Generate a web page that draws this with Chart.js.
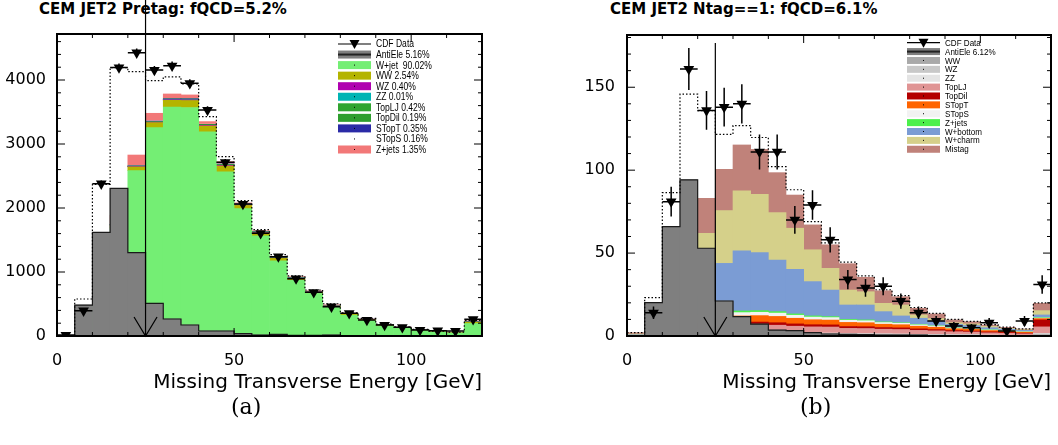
<!DOCTYPE html>
<html>
<head>
<meta charset="utf-8">
<script src="https://cdn.jsdelivr.net/npm/chart.js@4.4.1/dist/chart.umd.min.js"></script>
<style>
  body { margin: 0; width: 1058px; height: 445px; background: #fff; position: relative; overflow: hidden; }
  canvas { position: absolute; top: 0; }
  #pretag { left: 0; }
  #ntag { left: 529px; }
  .title { position: absolute; top: 2px; font: bold 15px "DejaVu Sans"; line-height: 15px; white-space: nowrap; color: #000; }
  .caption { position: absolute; font: 22px "DejaVu Serif"; line-height: 22px; color: #000; }
</style>
</head>
<body>
<div class="title" style="left:39px">CEM JET2 Pretag: fQCD=5.2%</div>
<div class="title" style="left:610px">CEM JET2 Ntag==1: fQCD=6.1%</div>
<canvas id="pretag" width="529" height="445"></canvas>
<canvas id="ntag" width="529" height="445"></canvas>
<div class="caption" style="left:231px; top:396px">(a)</div>
<div class="caption" style="left:800px; top:396px">(b)</div>
<script>
// 5 GeV bins of missing ET, last bin holds the overflow
const binCenters = [2.5, 7.5, 12.5, 17.5, 22.5, 27.5, 32.5, 37.5, 42.5, 47.5, 52.5, 57.5,
  62.5, 67.5, 72.5, 77.5, 82.5, 87.5, 92.5, 97.5, 102.5, 107.5, 112.5, 117.5];
const binWidth = 5;
const metCut = 25;
const xTicks = [0, 50, 100];
const pretagYTicks = [0, 1000, 2000, 3000, 4000];
const ntagYTicks = [0, 50, 100, 150];

// Pretag sample
const pretagData    = [15, 395, 2380, 4195, 4427, 4156, 4223, 3948, 3531, 2714, 2062, 1604, 1240, 896, 682, 458, 354, 250, 172, 135, 94, 83, 78, 260];
const pretagAntiEle = [0, 484, 1620, 2308, 1302, 511, 266, 172, 78, 78, 36, 16, 25, 10, 10, 16, 5, 5, 3, 3, 3, 3, 3, 3];
const pretagWjet    = [6, 80, 660, 1690, 2583, 3255, 3578, 3570, 3192, 2567, 1990, 1565, 1175, 870, 665, 450, 325, 242, 160, 122, 85, 62, 48, 195];
const pretagWW      = [0, 2, 20, 40, 60, 80, 105, 110, 90, 90, 50, 45, 38, 30, 22, 18, 15, 13, 10, 8, 7, 6, 5, 20];
const pretagWZ      = [0, 0, 3, 5, 5, 7, 9, 10, 9, 10, 8, 7, 6, 5, 4, 3, 3, 2, 2, 2, 1, 1, 1, 4];
const pretagZZ      = [0, 0, 0, 0, 0, 0, 1, 1, 1, 1, 0, 0, 0, 0, 0, 0, 0, 0, 0, 0, 0, 0, 0, 0];
const pretagTopLJ   = [0, 1, 3, 5, 5, 6, 7, 8, 7, 8, 6, 6, 6, 5, 4, 4, 3, 3, 2, 2, 2, 1, 1, 5];
const pretagTopDil  = [0, 0, 1, 2, 2, 3, 3, 4, 3, 4, 3, 3, 3, 3, 2, 2, 2, 2, 1, 1, 1, 1, 1, 4];
const pretagSTopT   = [0, 1, 3, 5, 6, 7, 7, 7, 6, 7, 6, 5, 5, 4, 3, 3, 3, 2, 2, 2, 1, 1, 1, 3];
const pretagSTopS   = [0, 0, 1, 2, 2, 2, 2, 2, 2, 2, 2, 2, 2, 1, 1, 1, 1, 1, 1, 0, 0, 0, 0, 1];
const pretagZjets   = [2, 10, 59, 135, 165, 120, 70, 55, 40, 35, 15, 12, 10, 10, 8, 7, 6, 5, 4, 3, 3, 2, 2, 8];

// Ntag==1 sample
const ntagData     = [null, 14, 81, 161, 136, 138, 140, 111, 111, 70, 79, 58, 34, 29, 30, 21, 14, 9, 6, 5, 8, 3, 9, 31];
const ntagAntiEle  = [0, 20.1, 65.9, 94.1, 52.9, 21.1, 11.7, 7.2, 3.6, 3.2, 2.0, 1.2, 1.0, 0.8, 0.6, 0.6, 0.5, 0.3, 0.3, 0.2, 0.2, 0.1, 0.1, 0.3];
const ntagWW       = [0, 0.1, 0.3, 0.8, 1.2, 1.4, 1.5, 1.5, 1.4, 1.3, 1.2, 1.2, 1.0, 1.0, 0.9, 0.8, 0.7, 0.6, 0.5, 0.5, 0.4, 0.3, 0.3, 0.8];
const ntagWZ       = [0, 0, 0.1, 0.3, 0.4, 0.5, 0.5, 0.5, 0.5, 0.4, 0.4, 0.4, 0.3, 0.3, 0.3, 0.3, 0.2, 0.2, 0.2, 0.2, 0.1, 0.1, 0.1, 0.5];
const ntagZZ       = [0, 0, 0, 0.1, 0.2, 0.2, 0.2, 0.2, 0.2, 0.2, 0.2, 0.2, 0.1, 0.1, 0.1, 0.1, 0.1, 0.1, 0.1, 0.1, 0.1, 0.1, 0, 0.2];
const ntagTopLJ    = [0.3, 0.4, 1.5, 3.0, 4.0, 4.4, 4.5, 4.6, 4.4, 4.0, 3.7, 3.6, 3.2, 3.1, 2.8, 2.7, 2.4, 2.2, 1.8, 1.6, 1.3, 1.1, 0.9, 4.0];
const ntagTopDil   = [0, 0.1, 0.5, 1.0, 1.4, 1.5, 1.6, 1.6, 1.5, 1.4, 1.3, 1.3, 1.1, 1.1, 1.0, 1.0, 0.9, 0.8, 0.7, 0.6, 0.6, 0.5, 0.4, 4.2];
const ntagSTopT    = [0, 0.2, 1.0, 2.2, 3.2, 3.6, 3.8, 3.9, 3.8, 3.4, 3.0, 2.9, 2.5, 2.4, 2.0, 1.9, 1.6, 1.4, 1.1, 1.0, 0.8, 0.7, 0.6, 0.8];
const ntagSTopS    = [0, 0.1, 0.5, 1.2, 1.8, 2.0, 2.0, 2.0, 2.0, 1.8, 1.6, 1.5, 1.3, 1.2, 1.0, 0.9, 0.8, 0.7, 0.4, 0.4, 0.3, 0.3, 0.2, 0.3];
const ntagZjets    = [0, 0.2, 0.8, 1.5, 1.0, 1.0, 1.0, 1.0, 0.9, 0.8, 0.7, 0.6, 0.5, 0.5, 0.4, 0.3, 0.3, 0.2, 0.2, 0.2, 0.2, 0.1, 0.1, 0.3];
const ntagWbottom  = [0.4, 0.5, 5.0, 14.0, 26.8, 29.2, 36.2, 35.0, 31.1, 26.9, 20.7, 16.0, 8.7, 9.0, 6.2, 4.1, 3.7, 2.8, 2.0, 1.7, 1.2, 0.9, 0.8, 1.6];
const ntagWcharm   = [0.5, 0.6, 4.8, 13.0, 21.9, 31.8, 36.3, 35.2, 28.6, 24.8, 19.2, 13.1, 9.0, 8.0, 5.0, 6.6, 2.0, 1.5, 1.0, 1.0, 0.8, 0.5, 0.4, 2.6];
const ntagMistag   = [0.8, 0.8, 6.0, 14.6, 21.1, 24.9, 27.6, 27.0, 24.1, 20.0, 15.0, 14.2, 15.9, 8.7, 7.6, 5.0, 4.0, 2.8, 1.7, 1.3, 0.8, 0.6, 0.4, 4.4];

// [legend text, values, fill colour], bottom of the stack first
const pretagStack = [
  ['W+jet  90.02%', pretagWjet, '#74ee74'],
  ['WW 2.54%', pretagWW, '#b4b400'],
  ['WZ 0.40%', pretagWZ, '#b000b0'],
  ['ZZ 0.01%', pretagZZ, '#00b4b4'],
  ['TopLJ 0.42%', pretagTopLJ, '#30a430'],
  ['TopDil 0.19%', pretagTopDil, '#2e9e2e'],
  ['STopT 0.35%', pretagSTopT, '#2a2aa6'],
  ['STopS 0.16%', pretagSTopS, '#ffffff'],
  ['Z+jets 1.35%', pretagZjets, '#f27878']
];
const ntagStack = [
  ['WW', ntagWW, '#a9a9a9'],
  ['WZ', ntagWZ, '#c8c8c8'],
  ['ZZ', ntagZZ, '#e4e4e4'],
  ['TopLJ', ntagTopLJ, '#e09494'],
  ['TopDil', ntagTopDil, '#b40000'],
  ['STopT', ntagSTopT, '#ff6400'],
  ['STopS', ntagSTopS, '#f2f2f2'],
  ['Z+jets', ntagZjets, '#4cf04c'],
  ['W+bottom', ntagWbottom, '#7b9cd4'],
  ['W+charm', ntagWcharm, '#d5d08a'],
  ['Mistag', ntagMistag, '#c0827a']
];

function points(values) {
  return binCenters.map((x, i) => ({ x: x, y: values[i] }));
}

// outline of a histogram: one point per lower bin edge plus the last upper edge
function steps(values) {
  const pts = binCenters.map((x, i) => ({ x: x - binWidth / 2, y: values[i] }));
  pts.push({ x: binCenters[binCenters.length - 1] + binWidth / 2, y: values[values.length - 1] });
  return pts;
}

function total(list) {
  return binCenters.map((c, i) => list.reduce((s, arr) => s + arr[i], 0));
}

function barSet(label, values, color, stack, order) {
  return {
    type: 'bar', label: label, data: points(values), backgroundColor: color,
    stack: stack, order: order, grouped: false, barPercentage: 1, categoryPercentage: 1,
    borderWidth: 0
  };
}

function stepSet(values, color, dash, stack, order) {
  return {
    type: 'line', data: steps(values), stepped: 'before', borderColor: color,
    borderWidth: 1.2, borderDash: dash, pointRadius: 0, fill: false,
    stack: stack, order: order
  };
}

// ROOT-like frame, inner ticks, error bars, cut arrow and legend
const rootStyle = {
  id: 'rootStyle',
  afterDatasetsDraw(chart, args, opts) {
    const { ctx, chartArea: a, scales: { x, y } } = chart;
    ctx.save();
    ctx.beginPath();
    ctx.rect(a.left, a.top, a.right - a.left, a.bottom - a.top);
    ctx.clip();
    ctx.strokeStyle = '#000';
    ctx.lineWidth = 1.5;
    ctx.beginPath();
    opts.data.forEach((v, i) => {
      if (v === null) return;
      const c = binCenters[i];
      const py = y.getPixelForValue(v);
      const err = Math.sqrt(v);
      ctx.moveTo(x.getPixelForValue(c - binWidth / 2), py);
      ctx.lineTo(x.getPixelForValue(c + binWidth / 2), py);
      ctx.moveTo(x.getPixelForValue(c), y.getPixelForValue(v - err));
      ctx.lineTo(x.getPixelForValue(c), y.getPixelForValue(v + err));
    });
    ctx.stroke();
    ctx.restore();

    ctx.save();
    ctx.strokeStyle = '#000';
    ctx.lineWidth = 1;
    ctx.beginPath();
    for (let v = x.min; v <= x.max; v += opts.xMinor) {
      const px = x.getPixelForValue(v);
      const len = v % 50 === 0 ? 8 : 4;
      ctx.moveTo(px, a.bottom); ctx.lineTo(px, a.bottom - len);
      ctx.moveTo(px, a.top); ctx.lineTo(px, a.top + len);
    }
    for (let v = 0; v <= y.max; v += opts.yMinor) {
      const py = y.getPixelForValue(v);
      const len = v % opts.yMajor === 0 ? 8 : 4;
      ctx.moveTo(a.left, py); ctx.lineTo(a.left + len, py);
      ctx.moveTo(a.right, py); ctx.lineTo(a.right - len, py);
    }
    ctx.stroke();
    ctx.lineWidth = 2;
    ctx.strokeRect(a.left, a.top, a.right - a.left, a.bottom - a.top);
    ctx.restore();
  },
  afterDraw(chart, args, opts) {
    const { ctx, chartArea: a, scales: { x } } = chart;
    ctx.save();
    const cx = x.getPixelForValue(metCut);
    ctx.strokeStyle = '#000';
    ctx.lineWidth = 1.2;
    ctx.beginPath();
    ctx.moveTo(cx, opts.cutTop);
    ctx.lineTo(cx, a.bottom);
    ctx.moveTo(cx - 11.5, a.bottom - 19);
    ctx.lineTo(cx, a.bottom);
    ctx.lineTo(cx + 11.5, a.bottom - 19);
    ctx.stroke();

    const lg = opts.legend;
    const x0 = a.right - 144;
    const w = 33;
    const h = lg.boxHeight;
    lg.entries.forEach((en, i) => {
      const sy = a.top + lg.top + i * lg.step;
      if (en.kind === 'data') {
        ctx.strokeStyle = '#000';
        ctx.lineWidth = 1.2;
        ctx.beginPath();
        ctx.moveTo(x0, sy); ctx.lineTo(x0 + w, sy);
        ctx.stroke();
        ctx.fillStyle = '#000';
        ctx.beginPath();
        ctx.moveTo(x0 + w / 2 - 5, sy - 4);
        ctx.lineTo(x0 + w / 2 + 5, sy - 4);
        ctx.lineTo(x0 + w / 2, sy + 5);
        ctx.closePath();
        ctx.fill();
      } else if (en.kind === 'line') {
        ctx.fillStyle = en.color;
        ctx.fillRect(x0, sy - h / 2, w, h);
        ctx.fillStyle = '#222';
        ctx.fillRect(x0, sy - 1, w, 2);
      } else {
        ctx.fillStyle = en.color;
        ctx.fillRect(x0, sy - h / 2, w, h);
        ctx.fillStyle = '#000';
        ctx.fillRect(x0 + w / 2 - 0.5, sy - 0.5, 1, 1);
      }
      ctx.save();
      ctx.translate(x0 + w + 5, sy + 0.5);
      ctx.scale(lg.squeeze, 1);
      ctx.font = lg.fontSize + 'px "Liberation Sans"';
      ctx.textBaseline = 'middle';
      ctx.fillStyle = '#000';
      ctx.fillText(en.label, 0, 0);
      ctx.restore();
    });
    ctx.restore();
  }
};

function makeChart(id, cfg) {
  const mc = cfg.stack.map(s => barSet(s[0], s[1], s[2], 'mc', 5));
  const expected = total(cfg.stack.map(s => s[1]).concat([cfg.antiEle]));
  const datasets = mc.concat([
    barSet(cfg.antiEleLabel, cfg.antiEle, '#7f7f7f', 'qcd', 3),
    stepSet(cfg.antiEle, '#1a1a1a', [], 'qcdline', 2),
    stepSet(expected, '#000', [1.5, 2], 'total', 1),
    {
      type: 'line', label: 'CDF Data', data: points(cfg.data), showLine: false,
      pointStyle: 'triangle', pointRotation: 180, pointRadius: 6.2,
      pointBackgroundColor: '#000', pointBorderWidth: 0, stack: 'data', order: 0
    }
  ]);
  const legendEntries = [
    { kind: 'data', label: 'CDF Data' },
    { kind: 'line', label: cfg.antiEleLabel, color: '#7f7f7f' }
  ].concat(cfg.stack.map(s => ({ kind: 'box', label: s[0], color: s[2] })));

  return new Chart(document.getElementById(id), {
    type: 'bar',
    data: { datasets: datasets },
    options: {
      responsive: false,
      animation: false,
      devicePixelRatio: 1,
      layout: { padding: { left: 0, right: cfg.padRight, top: cfg.padTop, bottom: 0 } },
      plugins: {
        legend: { display: false },
        tooltip: { enabled: false },
        rootStyle: {
          data: cfg.data, xMinor: 10, yMinor: cfg.yMinor, yMajor: cfg.yMajor,
          cutTop: cfg.cutTop,
          legend: {
            entries: legendEntries, top: cfg.legendTop, step: cfg.legendStep,
            boxHeight: cfg.legendBox, fontSize: cfg.legendFont, squeeze: cfg.legendSqueeze
          }
        }
      },
      scales: {
        x: {
          type: 'linear', min: 0, max: 120, offset: false,
          grid: { display: false, drawTicks: false }, border: { display: false },
          afterBuildTicks: s => { s.ticks = xTicks.map(v => ({ value: v })); },
          afterFit: s => { s.height = 109; },
          ticks: {
            autoSkip: false, maxRotation: 0, padding: 15, color: '#000',
            font: { family: 'DejaVu Sans', size: 16 },
            callback: v => String(v)
          },
          title: {
            display: true, text: 'Missing Transverse Energy [GeV]', align: 'end',
            color: '#000', font: { family: 'DejaVu Sans', size: 20 },
            padding: { top: 0, bottom: 50 }
          }
        },
        y: {
          type: 'linear', stacked: true, min: 0, max: cfg.yMax,
          grid: { display: false, drawTicks: false }, border: { display: false },
          afterBuildTicks: s => { s.ticks = cfg.yTicks.map(v => ({ value: v })); },
          afterFit: s => { s.width = cfg.axisLeft; },
          ticks: {
            autoSkip: false, padding: cfg.yPad, color: '#000',
            font: { family: 'DejaVu Sans', size: 16 },
            callback: v => String(v)
          }
        }
      }
    },
    plugins: [rootStyle]
  });
}

makeChart('pretag', {
  stack: pretagStack, antiEle: pretagAntiEle, antiEleLabel: 'AntiEle 5.16%', data: pretagData,
  yMax: 4719, yTicks: pretagYTicks, yMinor: 200, yMajor: 1000,
  axisLeft: 57, padRight: 47, padTop: 34, yPad: 11, cutTop: 0,
  legendTop: 10, legendStep: 10.55, legendBox: 8, legendFont: 10.7, legendSqueeze: 0.8
});

makeChart('ntag', {
  stack: ntagStack, antiEle: ntagAntiEle, antiEleLabel: 'AntiEle 6.12%', data: ntagData,
  yMax: 181.5, yTicks: ntagYTicks, yMinor: 10, yMajor: 50,
  axisLeft: 98, padRight: 7, padTop: 35, yPad: 12, cutTop: 43,
  legendTop: 7.7, legendStep: 8.88, legendBox: 7, legendFont: 9.4, legendSqueeze: 0.86
});
</script>
</body>
</html>
